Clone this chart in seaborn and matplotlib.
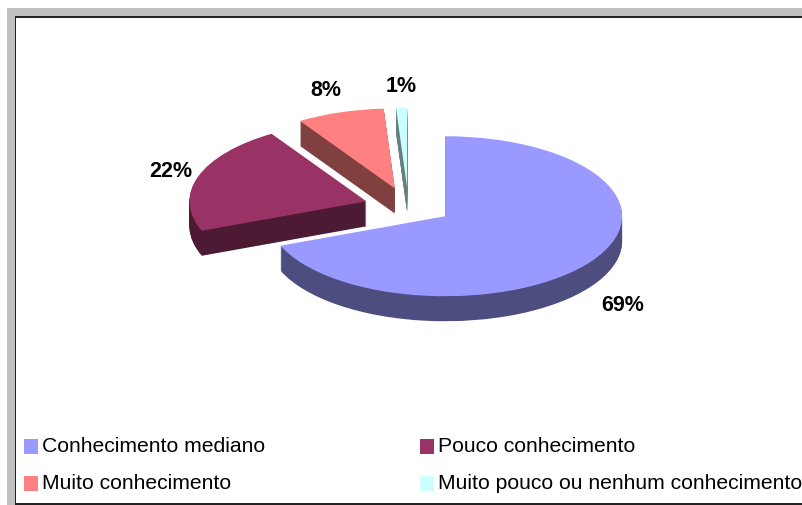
import matplotlib
matplotlib.use("Agg")
import matplotlib.pyplot as plt
from matplotlib.patches import Patch, Rectangle
import seaborn as sns

sns.set_theme(style="white")
plt.rcParams['font.family'] = ['Liberation Sans', 'DejaVu Sans']

# data
categories = ['Conhecimento mediano', 'Pouco conhecimento', 'Muito conhecimento',
              'Muito pouco ou nenhum conhecimento']
values = [69, 22, 8, 1]
value_labels = ['69%', '22%', '8%', '1%']

# colors
top_colors = sns.color_palette(['#9999ff', '#993366', '#ff8080', '#ccffff'])
side_colors = [tuple(c * 0.5 for c in col) for col in top_colors]

W, H = 802, 506
fig = plt.figure(figsize=(W / 100, H / 100), dpi=100, facecolor='white')

# gray window frame + black border, in pixels from top left
def px_rect(x0, y0, x1, y1, **kw):
    fig.add_artist(Rectangle((x0 / W, 1 - y1 / H), (x1 - x0) / W, (y1 - y0) / H,
                             transform=fig.transFigure, linewidth=0, zorder=-1, **kw))

px_rect(7, 9, W, H, facecolor='#c0c0c0')
px_rect(15, 17, W, 506, facecolor='#222222')
px_rect(16, 19, W, 504, facecolor='white')

# pie axes: unit circle squashed to an ellipse
cx, cy = 408.5, 206
rx, ry = 177, 80
depth = 25
back_shift = 2.5  # the three back slices sit a bit lower than a flat explode gives
ax = fig.add_axes([0, 0, 1, 1])
ax.patch.set_alpha(0)
explode = [0.25] * len(values)

def draw_layer(colors, y):
    front = [colors[0], 'none', 'none', 'none']
    back = ['none', colors[1], colors[2], colors[3]]
    ax.pie(values, colors=front, explode=explode, startangle=90, counterclock=False,
           center=(0, y), wedgeprops={'linewidth': 0})
    ax.pie(values, colors=back, explode=explode, startangle=90, counterclock=False,
           center=(0, y - back_shift / ry), wedgeprops={'linewidth': 0})

# side walls, stacked one pixel at a time
for k in range(depth, 0, -1):
    draw_layer(side_colors, -k / ry)
draw_layer(top_colors, 0)
ax.set_aspect('auto')
ax.set_xlim(-cx / rx, (W - cx) / rx)
ax.set_ylim(-(H - cy) / ry, cy / ry)
ax.axis('off')

# value labels
label_pos = [(622.5, 305.5), (171, 171.5), (326, 90.5), (401.5, 86.5)]
for txt, (x, y) in zip(value_labels, label_pos):
    fig.text(x / W, 1 - y / H, txt, ha='center', va='center', fontsize=15.5,
             fontweight='bold', color='black')

# legend, filled column by column
order = [0, 2, 1, 3]
handles = [Patch(facecolor=top_colors[i], linewidth=0) for i in order]
leg = fig.legend(handles, [categories[i] for i in order], ncol=2, loc='lower left',
                 bbox_to_anchor=(24 / W, 1 - 496 / H), bbox_transform=fig.transFigure,
                 frameon=False, fontsize=15.2, handlelength=0.67, handleheight=0.67,
                 handletextpad=0.2, columnspacing=7.32, labelspacing=0.86,
                 borderpad=0, borderaxespad=0, labelcolor='black')
# text sits a little above the swatches
for t in leg.get_texts():
    t.set_y(3)

fig.savefig('out.png', dpi=100, facecolor='white')
